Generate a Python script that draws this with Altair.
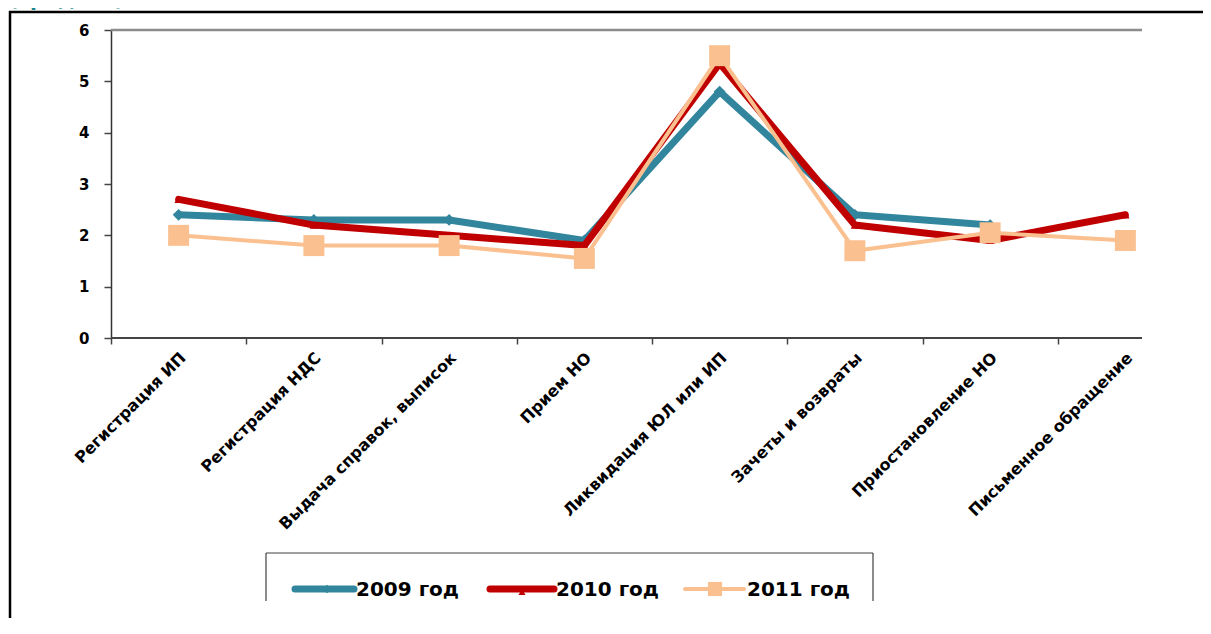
import altair as alt
import pandas as pd

# ---------------- data ----------------
categories = [
    "Регистрация ИП",
    "Регистрация НДС",
    "Выдача справок, выписок",
    "Прием НО",
    "Ликвидация ЮЛ или ИП",
    "Зачеты и возвраты",
    "Приостановление НО",
    "Письменное обращение",
]
series_names = ["2009 год", "2010 год", "2011 год"]
v2009 = [2.4, 2.3, 2.3, 1.9, 4.8, 2.4, 2.2, None]
v2010 = [2.7, 2.2, 2.0, 1.8, 5.35, 2.2, 1.9, 2.4]
v2011 = [2.0, 1.8, 1.8, 1.55, 5.5, 1.7, 2.05, 1.9]
y_ticks = [0, 1, 2, 3, 4, 5, 6]
title_text = "(средних)."

# ---------------- styling ----------------
colors = ["#31859C", "#C00000", "#FAC090"]
line_widths = [7, 7, 4]
shapes = ["diamond", "triangle-up", "square"]
shape_sizes = [140, 70, 440]

W, H = 1031, 308          # plot area (page x 111..1142, y 30..338)
PAD_L, PAD_T = 103, 22
SVG_W, SVG_H = 1195, 610
FULL_X = 1082             # full band range (last band is cut by the plot edge)

rows = []
for name, vals in zip(series_names, [v2009, v2010, v2011]):
    for c, v in zip(categories, vals):
        if v is not None:
            rows.append({"category": c, "series": name, "value": v})
df = pd.DataFrame(rows)

xscale = alt.Scale(type="point", domain=categories, range=[0, FULL_X], padding=0.5)
yscale = alt.Scale(domain=[0, 6], nice=False, zero=True)
half_band = FULL_X / len(categories) / 2

x_enc = alt.X(
    "category:N",
    sort=categories,
    scale=xscale,
    axis=alt.Axis(
        title=None,
        domain=False,
        ticks=True,
        tickSize=6,
        tickColor="#444444",
        tickWidth=1.5,
        tickOffset=-half_band,
        labelOffset=half_band + 4,
        labelAngle=-45,
        labelAlign="right",
        labelBaseline="middle",
        labelPadding=11,
        labelFont="DejaVu Sans",
        labelFontWeight="bold",
        labelFontSize=16,
        labelColor="#000000",
        labelOverlap=False,
        labelLimit=400,
    ),
)
y_enc = alt.Y(
    "value:Q",
    scale=yscale,
    axis=alt.Axis(
        title=None,
        values=y_ticks,
        grid=False,
        domain=True,
        domainColor="#333333",
        domainWidth=1.5,
        tickSize=7,
        tickColor="#444444",
        tickWidth=1.5,
        labelPadding=15,
        labelFont="DejaVu Sans",
        labelFontWeight="bold",
        labelFontSize=15,
        labelColor="#000000",
    ),
)

one = pd.DataFrame({"k": [0]})
layers = []

# outer frame (left and top borders)
layers.append(
    alt.Chart(one).mark_rule(color="#000000", strokeWidth=2.5).encode(
        x=alt.value(-101), y=alt.value(-19), y2=alt.value(SVG_H - PAD_T)
    )
)
layers.append(
    alt.Chart(one).mark_rule(color="#000000", strokeWidth=2.5).encode(
        x=alt.value(-102), x2=alt.value(SVG_W - PAD_L), y=alt.value(-18)
    )
)
# clipped title remnant
layers.append(
    alt.Chart(one).mark_text(
        text=title_text, align="left", baseline="alphabetic",
        font="DejaVu Sans", fontWeight="bold", fontSize=20, color="#17878A",
    ).encode(x=alt.value(-102), y=alt.value(-24))
)
# plot area top border (at 6) and category axis line (at 0)
layers.append(
    alt.Chart(one).mark_rule(color="#8C8C8C", strokeWidth=2.5).encode(
        y=alt.Y(datum=6, scale=yscale), x=alt.value(0), x2=alt.value(W)
    )
)
layers.append(
    alt.Chart(one).mark_rule(color="#444444", strokeWidth=2).encode(
        y=alt.Y(datum=0, scale=yscale), x=alt.value(0), x2=alt.value(W)
    )
)

# series
for i, name in enumerate(series_names):
    base = alt.Chart(df).transform_filter(alt.datum.series == name)
    layers.append(
        base.mark_line(
            color=colors[i], strokeWidth=line_widths[i], strokeJoin="round", strokeCap="round"
        ).encode(x=x_enc, y=y_enc)
    )
    layers.append(
        base.mark_point(
            shape=shapes[i], size=shape_sizes[i], filled=True, opacity=1, color=colors[i]
        ).encode(x=x_enc, y=y_enc)
    )

# legend (hand-laid, page coords -> plot coords)
leg_line_x0 = [184, 379, 574]
leg_line_x1 = [243, 443, 633]
leg_marker_x = [216, 411, 604]
leg_text_x = [245, 445, 636]
leg_marker_sizes = [70, 50, 200]
leg_y = 559
leg_text_y = 566

layers.append(
    alt.Chart(one).mark_rule(color="#404040", strokeWidth=1.2).encode(
        x=alt.value(155), x2=alt.value(762), y=alt.value(523)
    )
)
for xx in (155, 762):
    layers.append(
        alt.Chart(one).mark_rule(color="#404040", strokeWidth=1.2).encode(
            x=alt.value(xx), y=alt.value(523), y2=alt.value(572)
        )
    )
for i, name in enumerate(series_names):
    lg = alt.Chart(pd.DataFrame({"series": [name]}))
    layers.append(
        lg.mark_rule(color=colors[i], strokeWidth=line_widths[i], strokeCap="round").encode(
            x=alt.value(leg_line_x0[i]), x2=alt.value(leg_line_x1[i]), y=alt.value(leg_y)
        )
    )
    layers.append(
        lg.mark_point(
            shape=shapes[i], size=leg_marker_sizes[i], filled=True, opacity=1, color=colors[i]
        ).encode(x=alt.value(leg_marker_x[i]), y=alt.value(leg_y + (3 if i == 1 else 0)))
    )
    layers.append(
        lg.mark_text(
            align="left", baseline="alphabetic", font="DejaVu Sans",
            fontWeight="bold", fontSize=20, color="#000000",
        ).encode(text="series:N", x=alt.value(leg_text_x[i]), y=alt.value(leg_text_y))
    )
# crop of the embedded picture below the legend
layers.append(
    alt.Chart(one).mark_rect(color="#FFFFFF").encode(
        x=alt.value(140), x2=alt.value(780), y=alt.value(571), y2=alt.value(SVG_H - PAD_T)
    )
)

chart = (
    alt.layer(*layers)
    .properties(
        width=W,
        height=H,
        autosize=alt.AutoSizeParams(type="none"),
        padding={"left": PAD_L, "top": PAD_T, "right": SVG_W - PAD_L - W, "bottom": SVG_H - PAD_T - H},
        background="#FFFFFF",
    )
    .configure_view(stroke=None)
)

chart.save("out.html", embed_options={"renderer": "svg", "actions": False})
